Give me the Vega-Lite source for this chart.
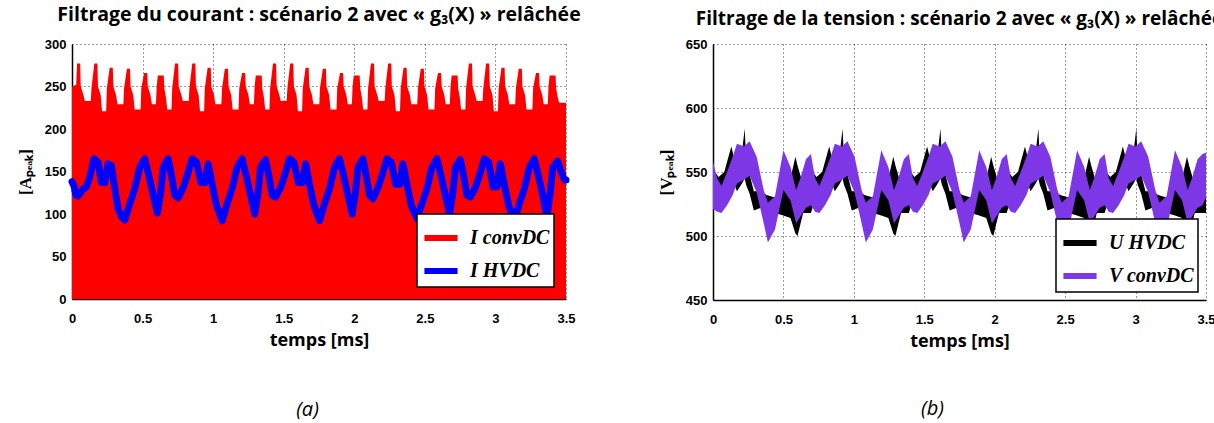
{
  "$schema": "https://vega.github.io/schema/vega-lite/v6.json",
  "background": "white",
  "padding": {"left": 16, "top": 4, "right": 0, "bottom": 0},
  "resolve": {"scale": {"color": "independent"}},
  "datasets": {
    "red": [
      {"t":0,"v":250},{"t":0.03,"v":252},{"t":0.036,"v":277},{"t":0.058,"v":277},{"t":0.062,"v":250},{"t":0.081,"v":240},{"t":0.091,"v":233},
      {"t":0.133,"v":233},{"t":0.138,"v":248},{"t":0.158,"v":277},{"t":0.18,"v":277},{"t":0.184,"v":250},{"t":0.203,"v":240},{"t":0.213,"v":221},
      {"t":0.242,"v":221},{"t":0.247,"v":248},{"t":0.267,"v":272},{"t":0.289,"v":272},{"t":0.293,"v":250},{"t":0.312,"v":240},{"t":0.322,"v":229},
      {"t":0.364,"v":229},{"t":0.369,"v":248},{"t":0.389,"v":271},{"t":0.411,"v":271},{"t":0.415,"v":250},{"t":0.434,"v":240},{"t":0.444,"v":223},
      {"t":0.486,"v":223},{"t":0.491,"v":248},{"t":0.511,"v":266},{"t":0.533,"v":266},{"t":0.537,"v":250},{"t":0.556,"v":240},{"t":0.566,"v":229},
      {"t":0.595,"v":229},{"t":0.6,"v":250},{"t":0.608,"v":263},{"t":0.65,"v":263},{"t":0.654,"v":248},{"t":0.665,"v":238},{"t":0.675,"v":223},
      {"t":0.705,"v":223},{"t":0.71,"v":248},{"t":0.73,"v":277},{"t":0.752,"v":277},{"t":0.756,"v":250},{"t":0.775,"v":240},{"t":0.785,"v":233},
      {"t":0.827,"v":233},{"t":0.832,"v":248},{"t":0.852,"v":277},{"t":0.874,"v":277},{"t":0.878,"v":250},{"t":0.897,"v":240},{"t":0.907,"v":221},
      {"t":0.936,"v":221},{"t":0.941,"v":248},{"t":0.961,"v":272},{"t":0.983,"v":272},{"t":0.987,"v":250},{"t":1.006,"v":240},{"t":1.016,"v":229},
      {"t":1.058,"v":229},{"t":1.063,"v":248},{"t":1.083,"v":271},{"t":1.105,"v":271},{"t":1.109,"v":250},{"t":1.128,"v":240},{"t":1.138,"v":223},
      {"t":1.18,"v":223},{"t":1.185,"v":248},{"t":1.205,"v":266},{"t":1.227,"v":266},{"t":1.231,"v":250},{"t":1.25,"v":240},{"t":1.26,"v":229},
      {"t":1.289,"v":229},{"t":1.294,"v":250},{"t":1.302,"v":263},{"t":1.344,"v":263},{"t":1.348,"v":248},{"t":1.359,"v":238},{"t":1.369,"v":223},
      {"t":1.399,"v":223},{"t":1.404,"v":248},{"t":1.424,"v":277},{"t":1.446,"v":277},{"t":1.45,"v":250},{"t":1.469,"v":240},{"t":1.479,"v":233},
      {"t":1.521,"v":233},{"t":1.526,"v":248},{"t":1.546,"v":277},{"t":1.568,"v":277},{"t":1.572,"v":250},{"t":1.591,"v":240},{"t":1.601,"v":221},
      {"t":1.63,"v":221},{"t":1.635,"v":248},{"t":1.655,"v":272},{"t":1.677,"v":272},{"t":1.681,"v":250},{"t":1.7,"v":240},{"t":1.71,"v":229},
      {"t":1.752,"v":229},{"t":1.757,"v":248},{"t":1.777,"v":271},{"t":1.799,"v":271},{"t":1.803,"v":250},{"t":1.822,"v":240},{"t":1.832,"v":223},
      {"t":1.874,"v":223},{"t":1.879,"v":248},{"t":1.899,"v":266},{"t":1.921,"v":266},{"t":1.925,"v":250},{"t":1.944,"v":240},{"t":1.954,"v":229},
      {"t":1.983,"v":229},{"t":1.988,"v":250},{"t":1.996,"v":263},{"t":2.038,"v":263},{"t":2.042,"v":248},{"t":2.053,"v":238},{"t":2.063,"v":223},
      {"t":2.093,"v":223},{"t":2.098,"v":248},{"t":2.118,"v":277},{"t":2.14,"v":277},{"t":2.144,"v":250},{"t":2.163,"v":240},{"t":2.173,"v":233},
      {"t":2.215,"v":233},{"t":2.22,"v":248},{"t":2.24,"v":277},{"t":2.262,"v":277},{"t":2.266,"v":250},{"t":2.285,"v":240},{"t":2.295,"v":221},
      {"t":2.324,"v":221},{"t":2.329,"v":248},{"t":2.349,"v":272},{"t":2.371,"v":272},{"t":2.375,"v":250},{"t":2.394,"v":240},{"t":2.404,"v":229},
      {"t":2.446,"v":229},{"t":2.451,"v":248},{"t":2.471,"v":271},{"t":2.493,"v":271},{"t":2.497,"v":250},{"t":2.516,"v":240},{"t":2.526,"v":223},
      {"t":2.568,"v":223},{"t":2.573,"v":248},{"t":2.593,"v":266},{"t":2.615,"v":266},{"t":2.619,"v":250},{"t":2.638,"v":240},{"t":2.648,"v":229},
      {"t":2.677,"v":229},{"t":2.682,"v":250},{"t":2.69,"v":263},{"t":2.732,"v":263},{"t":2.736,"v":248},{"t":2.747,"v":238},{"t":2.757,"v":223},
      {"t":2.787,"v":223},{"t":2.792,"v":248},{"t":2.812,"v":277},{"t":2.834,"v":277},{"t":2.838,"v":250},{"t":2.857,"v":240},{"t":2.867,"v":233},
      {"t":2.909,"v":233},{"t":2.914,"v":248},{"t":2.934,"v":277},{"t":2.956,"v":277},{"t":2.96,"v":250},{"t":2.979,"v":240},{"t":2.989,"v":221},
      {"t":3.018,"v":221},{"t":3.023,"v":248},{"t":3.043,"v":272},{"t":3.065,"v":272},{"t":3.069,"v":250},{"t":3.088,"v":240},{"t":3.098,"v":229},
      {"t":3.14,"v":229},{"t":3.145,"v":248},{"t":3.165,"v":271},{"t":3.187,"v":271},{"t":3.191,"v":250},{"t":3.21,"v":240},{"t":3.22,"v":223},
      {"t":3.262,"v":223},{"t":3.267,"v":248},{"t":3.287,"v":266},{"t":3.309,"v":266},{"t":3.313,"v":250},{"t":3.332,"v":240},{"t":3.342,"v":229},
      {"t":3.371,"v":229},{"t":3.376,"v":250},{"t":3.384,"v":263},{"t":3.426,"v":263},{"t":3.43,"v":248},{"t":3.441,"v":238},{"t":3.451,"v":231},{"t":3.5,"v":231}
    ],
    "blue": [
      {"t":0,"v":138},{"t":0.014,"v":133},{"t":0.028,"v":122},{"t":0.042,"v":121},{"t":0.078,"v":129},{"t":0.102,"v":132},{"t":0.125,"v":143},{"t":0.156,"v":165},{"t":0.185,"v":161},{"t":0.208,"v":137},{"t":0.232,"v":137},{"t":0.255,"v":159},{"t":0.279,"v":157},{"t":0.303,"v":130},{"t":0.327,"v":106},{"t":0.35,"v":97},
      {"t":0.374,"v":93},{"t":0.409,"v":112},{"t":0.445,"v":130},{"t":0.48,"v":155},{"t":0.515,"v":165},{"t":0.539,"v":149},{"t":0.575,"v":122},{"t":0.605,"v":101},{"t":0.629,"v":126},{"t":0.646,"v":155},{"t":0.681,"v":165},{"t":0.705,"v":145},{"t":0.728,"v":122},{"t":0.752,"v":119},{"t":0.788,"v":131},{"t":0.823,"v":149},{"t":0.851,"v":165},{"t":0.882,"v":161},{"t":0.913,"v":137},{"t":0.941,"v":137},{"t":0.965,"v":159},{"t":0.994,"v":134},{"t":1.024,"v":110},
      {"t":1.064,"v":92},{"t":1.099,"v":112},{"t":1.135,"v":130},{"t":1.17,"v":155},{"t":1.205,"v":165},{"t":1.229,"v":149},{"t":1.265,"v":122},{"t":1.295,"v":100},{"t":1.319,"v":126},{"t":1.336,"v":155},{"t":1.371,"v":164},{"t":1.395,"v":145},{"t":1.418,"v":122},{"t":1.442,"v":120},{"t":1.478,"v":131},{"t":1.513,"v":149},{"t":1.541,"v":165},{"t":1.572,"v":161},{"t":1.603,"v":137},{"t":1.631,"v":137},{"t":1.655,"v":159},{"t":1.684,"v":134},{"t":1.714,"v":110},
      {"t":1.754,"v":92},{"t":1.789,"v":112},{"t":1.825,"v":130},{"t":1.86,"v":155},{"t":1.895,"v":165},{"t":1.919,"v":149},{"t":1.955,"v":122},{"t":1.985,"v":100},{"t":2.009,"v":126},{"t":2.026,"v":155},{"t":2.061,"v":165},{"t":2.085,"v":145},{"t":2.108,"v":122},{"t":2.132,"v":118},{"t":2.168,"v":131},{"t":2.203,"v":149},{"t":2.231,"v":165},{"t":2.262,"v":161},{"t":2.293,"v":135},{"t":2.321,"v":135},{"t":2.345,"v":159},{"t":2.374,"v":134},{"t":2.404,"v":110},
      {"t":2.444,"v":95},{"t":2.479,"v":112},{"t":2.515,"v":130},{"t":2.55,"v":155},{"t":2.585,"v":165},{"t":2.609,"v":149},{"t":2.645,"v":122},{"t":2.675,"v":100},{"t":2.699,"v":126},{"t":2.716,"v":155},{"t":2.751,"v":164},{"t":2.775,"v":145},{"t":2.798,"v":122},{"t":2.822,"v":120},{"t":2.858,"v":131},{"t":2.893,"v":149},{"t":2.921,"v":165},{"t":2.952,"v":161},{"t":2.983,"v":132},{"t":3.011,"v":132},{"t":3.035,"v":159},{"t":3.064,"v":134},{"t":3.094,"v":110},
      {"t":3.134,"v":92},{"t":3.169,"v":112},{"t":3.205,"v":130},{"t":3.24,"v":155},{"t":3.275,"v":165},{"t":3.299,"v":149},{"t":3.335,"v":122},{"t":3.365,"v":96},{"t":3.389,"v":126},{"t":3.406,"v":155},{"t":3.441,"v":162},{"t":3.465,"v":150},{"t":3.49,"v":140},{"t":3.5,"v":140}
    ],
    "black": [
      {"t":0,"lo":518,"hi":552},{"t":0.04,"lo":532,"hi":546},{"t":0.08,"lo":535,"hi":550},{"t":0.13,"lo":546,"hi":570},{"t":0.17,"lo":535,"hi":552},{"t":0.2,"lo":540,"hi":560},{"t":0.225,"lo":545,"hi":584},{"t":0.235,"lo":540,"hi":560},{"t":0.26,"lo":533,"hi":548},{"t":0.29,"lo":520,"hi":535},{"t":0.34,"lo":522,"hi":535},{"t":0.38,"lo":521,"hi":532},{"t":0.44,"lo":518,"hi":530},{"t":0.5,"lo":516,"hi":540},{"t":0.55,"lo":514,"hi":545},{"t":0.585,"lo":502,"hi":562},{"t":0.6,"lo":500,"hi":555},{"t":0.64,"lo":518,"hi":540},
      {"t":0.695,"lo":518,"hi":552},{"t":0.735,"lo":532,"hi":546},{"t":0.775,"lo":535,"hi":550},{"t":0.825,"lo":546,"hi":570},{"t":0.865,"lo":535,"hi":552},{"t":0.895,"lo":540,"hi":560},{"t":0.92,"lo":545,"hi":584},{"t":0.93,"lo":540,"hi":560},{"t":0.955,"lo":533,"hi":548},{"t":0.985,"lo":520,"hi":535},{"t":1.035,"lo":522,"hi":535},{"t":1.075,"lo":521,"hi":532},{"t":1.135,"lo":518,"hi":530},{"t":1.195,"lo":516,"hi":540},{"t":1.245,"lo":514,"hi":545},{"t":1.28,"lo":502,"hi":562},{"t":1.295,"lo":500,"hi":555},{"t":1.335,"lo":518,"hi":540},
      {"t":1.39,"lo":518,"hi":552},{"t":1.43,"lo":532,"hi":546},{"t":1.47,"lo":535,"hi":550},{"t":1.52,"lo":546,"hi":570},{"t":1.56,"lo":535,"hi":552},{"t":1.59,"lo":540,"hi":560},{"t":1.615,"lo":545,"hi":584},{"t":1.625,"lo":540,"hi":560},{"t":1.65,"lo":533,"hi":548},{"t":1.68,"lo":520,"hi":535},{"t":1.73,"lo":522,"hi":535},{"t":1.77,"lo":521,"hi":532},{"t":1.83,"lo":518,"hi":530},{"t":1.89,"lo":516,"hi":540},{"t":1.94,"lo":514,"hi":545},{"t":1.975,"lo":502,"hi":562},{"t":1.99,"lo":500,"hi":555},{"t":2.03,"lo":518,"hi":540},
      {"t":2.085,"lo":518,"hi":552},{"t":2.125,"lo":532,"hi":546},{"t":2.165,"lo":535,"hi":550},{"t":2.215,"lo":546,"hi":570},{"t":2.255,"lo":535,"hi":552},{"t":2.285,"lo":540,"hi":560},{"t":2.31,"lo":545,"hi":584},{"t":2.32,"lo":540,"hi":560},{"t":2.345,"lo":533,"hi":548},{"t":2.375,"lo":520,"hi":535},{"t":2.425,"lo":522,"hi":535},{"t":2.465,"lo":521,"hi":532},{"t":2.525,"lo":518,"hi":530},{"t":2.585,"lo":516,"hi":540},{"t":2.635,"lo":514,"hi":545},{"t":2.67,"lo":502,"hi":562},{"t":2.685,"lo":500,"hi":555},{"t":2.725,"lo":518,"hi":540},
      {"t":2.78,"lo":518,"hi":552},{"t":2.82,"lo":532,"hi":546},{"t":2.86,"lo":535,"hi":550},{"t":2.91,"lo":546,"hi":570},{"t":2.95,"lo":535,"hi":552},{"t":2.98,"lo":540,"hi":560},{"t":3.005,"lo":545,"hi":584},{"t":3.015,"lo":540,"hi":560},{"t":3.04,"lo":533,"hi":548},{"t":3.07,"lo":520,"hi":535},{"t":3.12,"lo":522,"hi":535},{"t":3.16,"lo":521,"hi":532},{"t":3.22,"lo":518,"hi":530},{"t":3.28,"lo":516,"hi":540},{"t":3.33,"lo":514,"hi":545},{"t":3.365,"lo":502,"hi":562},{"t":3.38,"lo":500,"hi":555},{"t":3.42,"lo":518,"hi":540},
      {"t":3.475,"lo":518,"hi":552},{"t":3.5,"lo":518,"hi":530}
    ],
    "purple": [
      {"t":0,"lo":521,"hi":558},{"t":0.03,"lo":519,"hi":545},{"t":0.06,"lo":518,"hi":539},{"t":0.1,"lo":524,"hi":550},{"t":0.14,"lo":532,"hi":562},{"t":0.17,"lo":541,"hi":572},{"t":0.22,"lo":544,"hi":570},{"t":0.26,"lo":547,"hi":574},{"t":0.31,"lo":534,"hi":562},{"t":0.36,"lo":510,"hi":536},{"t":0.39,"lo":495,"hi":526},{"t":0.44,"lo":505,"hi":531},{"t":0.5,"lo":536,"hi":567},{"t":0.55,"lo":528,"hi":554},{"t":0.59,"lo":510,"hi":536},{"t":0.62,"lo":515,"hi":545},{"t":0.66,"lo":522,"hi":560},
      {"t":0.695,"lo":524,"hi":564},{"t":0.725,"lo":519,"hi":545},{"t":0.755,"lo":518,"hi":539},{"t":0.795,"lo":524,"hi":550},{"t":0.835,"lo":532,"hi":562},{"t":0.865,"lo":541,"hi":572},{"t":0.915,"lo":544,"hi":570},{"t":0.955,"lo":547,"hi":574},{"t":1.005,"lo":534,"hi":562},{"t":1.055,"lo":510,"hi":536},{"t":1.085,"lo":495,"hi":526},{"t":1.135,"lo":505,"hi":531},{"t":1.195,"lo":536,"hi":567},{"t":1.245,"lo":528,"hi":554},{"t":1.285,"lo":510,"hi":536},{"t":1.315,"lo":515,"hi":545},{"t":1.355,"lo":522,"hi":560},
      {"t":1.39,"lo":524,"hi":564},{"t":1.42,"lo":519,"hi":545},{"t":1.45,"lo":518,"hi":539},{"t":1.49,"lo":524,"hi":550},{"t":1.53,"lo":532,"hi":562},{"t":1.56,"lo":541,"hi":572},{"t":1.61,"lo":544,"hi":570},{"t":1.65,"lo":547,"hi":574},{"t":1.7,"lo":534,"hi":562},{"t":1.75,"lo":510,"hi":536},{"t":1.78,"lo":495,"hi":526},{"t":1.83,"lo":505,"hi":531},{"t":1.89,"lo":536,"hi":567},{"t":1.94,"lo":528,"hi":554},{"t":1.98,"lo":510,"hi":536},{"t":2.01,"lo":515,"hi":545},{"t":2.05,"lo":522,"hi":560},
      {"t":2.085,"lo":524,"hi":564},{"t":2.115,"lo":519,"hi":545},{"t":2.145,"lo":518,"hi":539},{"t":2.185,"lo":524,"hi":550},{"t":2.225,"lo":532,"hi":562},{"t":2.255,"lo":541,"hi":572},{"t":2.305,"lo":544,"hi":570},{"t":2.345,"lo":547,"hi":574},{"t":2.395,"lo":534,"hi":562},{"t":2.445,"lo":510,"hi":536},{"t":2.475,"lo":495,"hi":526},{"t":2.525,"lo":505,"hi":531},{"t":2.585,"lo":536,"hi":567},{"t":2.635,"lo":528,"hi":554},{"t":2.675,"lo":510,"hi":536},{"t":2.705,"lo":515,"hi":545},{"t":2.745,"lo":522,"hi":560},
      {"t":2.78,"lo":524,"hi":564},{"t":2.81,"lo":519,"hi":545},{"t":2.84,"lo":518,"hi":539},{"t":2.88,"lo":524,"hi":550},{"t":2.92,"lo":532,"hi":562},{"t":2.95,"lo":541,"hi":572},{"t":3,"lo":544,"hi":570},{"t":3.04,"lo":547,"hi":574},{"t":3.09,"lo":534,"hi":562},{"t":3.14,"lo":510,"hi":536},{"t":3.17,"lo":495,"hi":526},{"t":3.22,"lo":505,"hi":531},{"t":3.28,"lo":536,"hi":567},{"t":3.33,"lo":528,"hi":554},{"t":3.37,"lo":510,"hi":536},{"t":3.4,"lo":515,"hi":545},{"t":3.44,"lo":522,"hi":560},
      {"t":3.475,"lo":524,"hi":564},{"t":3.5,"lo":530,"hi":565}
    ]
  },
  "spacing": 76,
  "hconcat": [
    {
      "width": 494,
      "height": 255,
      "title": {"text": "Filtrage du courant : scénario 2 avec « g₃(X) » relâchée", "font": "Open Sans", "fontSize": 19.5, "fontWeight": "bold", "offset": 13, "anchor": "middle"},
      "resolve": {"axis": {"x": "independent"}},
      "layer": [
        {
          "data": {"name": "red"},
          "mark": {"type": "area", "interpolate": "linear"},
          "encoding": {
            "x": {"field": "t", "type": "quantitative", "scale": {"domain": [0, 3.5], "nice": false}, "axis": {"title": "temps [ms]", "values": [0, 0.5, 1, 1.5, 2, 2.5, 3, 3.5], "format": ".1~f"}},
            "y": {"field": "v", "type": "quantitative", "scale": {"domain": [0, 300], "nice": false}, "axis": {"title": "[Aₚₑₐₖ]", "values": [0, 50, 100, 150, 200, 250, 300]}},
            "color": {"datum": "I convDC", "type": "nominal", "scale": {"domain": ["I convDC", "I HVDC"], "range": ["#ff0000", "#0000ff"]}, "legend": {"title": null, "offset": 12, "encode": {"symbols": {"update": {"stroke": {"signal": "datum.value === 'I convDC' ? '#ff0000' : '#0000ff'"}, "strokeWidth": {"value": 6}}}}}}
          }
        },
        {
          "data": {"name": "blue"},
          "mark": {"type": "line", "strokeWidth": 7, "strokeJoin": "round", "strokeCap": "round"},
          "encoding": {
            "x": {"field": "t", "type": "quantitative", "scale": {"domain": [0, 3.5], "nice": false}, "axis": {"orient": "bottom", "title": "(a)", "labels": false, "ticks": false, "domain": false, "grid": false, "offset": 100, "titleFont": "Open Sans", "titleFontSize": 20, "titleFontStyle": "italic", "titleFontWeight": "normal", "titlePadding": 0, "titleX": 235}},
            "y": {"field": "v", "type": "quantitative"},
            "color": {"datum": "I HVDC", "type": "nominal"}
          }
        }
      ]
    },
    {
      "width": 493,
      "height": 256,
      "title": {"text": "Filtrage de la tension : scénario 2 avec « g₃(X) » relâchée", "font": "Open Sans", "fontSize": 19, "fontWeight": "bold", "offset": 9, "anchor": "middle"},
      "resolve": {"axis": {"x": "independent"}},
      "layer": [
        {
          "data": {"name": "black"},
          "mark": {"type": "area", "interpolate": "linear"},
          "encoding": {
            "x": {"field": "t", "type": "quantitative", "scale": {"domain": [0, 3.5], "nice": false}, "axis": {"title": "temps [ms]", "values": [0, 0.5, 1, 1.5, 2, 2.5, 3, 3.5], "format": ".1~f"}},
            "y": {"field": "hi", "type": "quantitative", "scale": {"domain": [450, 650], "nice": false, "zero": false}, "axis": {"title": "[Vₚₑₐₖ]", "values": [450, 500, 550, 600, 650]}},
            "y2": {"field": "lo"},
            "color": {"datum": "U HVDC", "type": "nominal", "scale": {"domain": ["U HVDC", "V convDC"], "range": ["#000000", "#7d37e6"]}, "legend": {"title": null, "offset": 8, "encode": {"symbols": {"update": {"stroke": {"signal": "datum.value === 'U HVDC' ? '#000000' : '#7d37e6'"}, "strokeWidth": {"value": 6}}}}}}
          }
        },
        {
          "data": {"name": "purple"},
          "mark": {"type": "area", "interpolate": "linear"},
          "encoding": {
            "x": {"field": "t", "type": "quantitative", "scale": {"domain": [0, 3.5], "nice": false}, "axis": {"orient": "bottom", "title": "(b)", "labels": false, "ticks": false, "domain": false, "grid": false, "offset": 98, "titleFont": "Open Sans", "titleFontSize": 20, "titleFontStyle": "italic", "titleFontWeight": "normal", "titlePadding": 0, "titleX": 219}},
            "y": {"field": "hi", "type": "quantitative"},
            "y2": {"field": "lo"},
            "color": {"datum": "V convDC", "type": "nominal"}
          }
        }
      ]
    }
  ],
  "config": {
    "view": {"stroke": null},
    "axis": {"labelFont": "Liberation Sans", "labelFontWeight": "bold", "labelFontSize": 13, "labelColor": "black", "labelFlush": false, "domainColor": "black", "domainWidth": 1.5, "ticks": false, "grid": true, "gridColor": "black", "gridDash": [1, 3], "gridOpacity": 0.8, "titleColor": "black", "labelPadding": 6},
    "axisX": {"titleFont": "Open Sans", "titleFontSize": 18, "titleFontWeight": "bold", "titlePadding": 6, "labelPadding": 13},
    "axisY": {"titleFont": "Liberation Serif", "titleFontSize": 17, "titleFontWeight": "bold", "titlePadding": 10},
    "legend": {"orient": "bottom-right", "strokeColor": "black", "strokeWidth": 1.5, "fillColor": "white", "padding": 4, "symbolType": "stroke", "symbolStrokeWidth": 6, "symbolSize": 1100, "labelFont": "Liberation Serif", "labelFontSize": 20, "labelFontStyle": "italic", "labelFontWeight": "bold", "labelColor": "black", "rowPadding": 1, "labelOffset": 9},
    "title": {"color": "black"}
  }
}
